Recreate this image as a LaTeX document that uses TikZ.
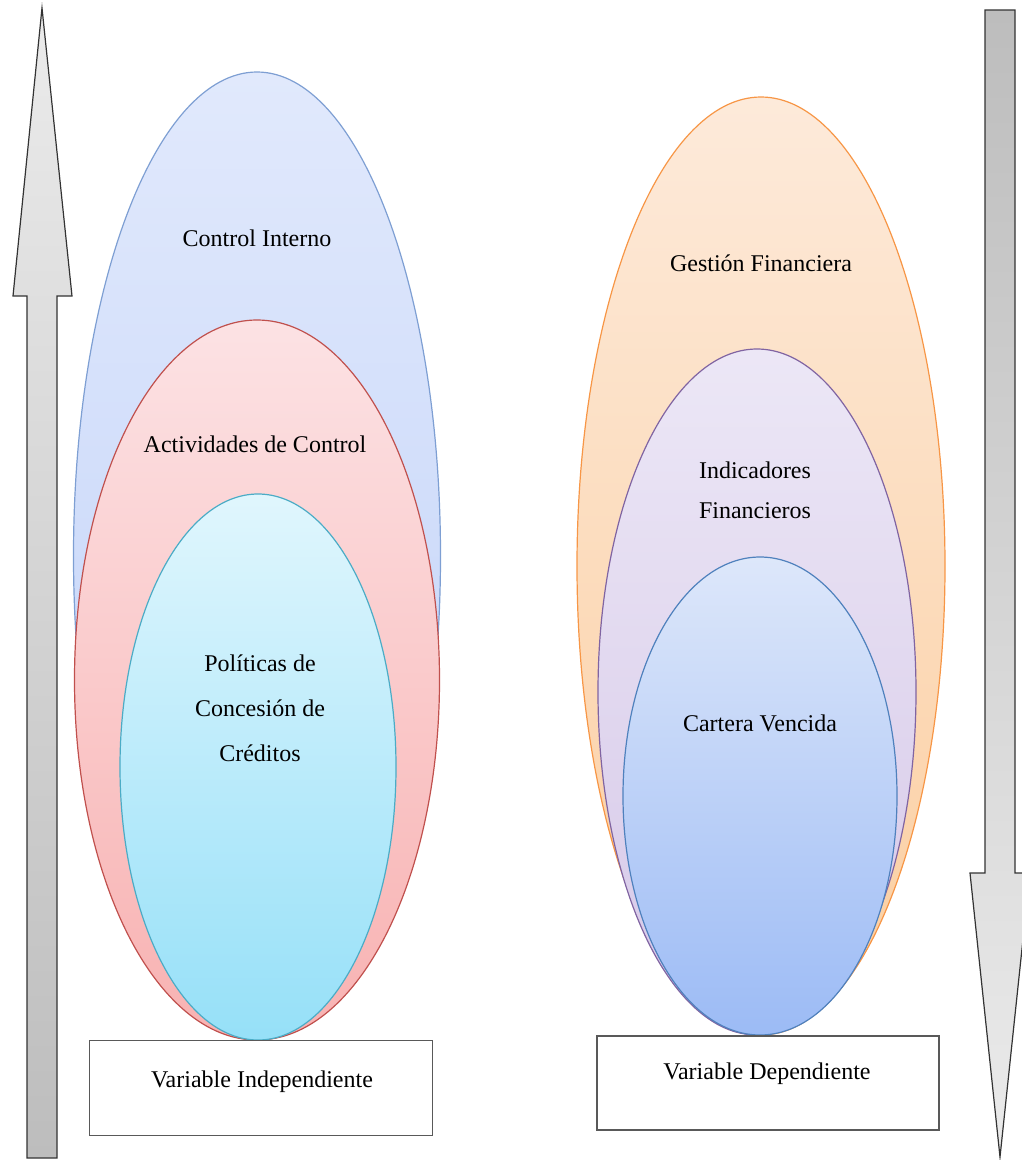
\documentclass[tikz,border=0pt]{standalone}
\usepackage{fontspec}
\setmainfont{Liberation Serif}
\usetikzlibrary{shapes.geometric}

\definecolor{blueEdge}{HTML}{7E9FD3}
\definecolor{blueTop}{HTML}{E1E9FC}
\definecolor{blueBot}{HTML}{BED0F8}
\definecolor{redEdge}{HTML}{C0504D}
\definecolor{redTop}{HTML}{FCE2E4}
\definecolor{redBot}{HTML}{F8B2B2}
\definecolor{cyanEdge}{HTML}{4BACC6}
\definecolor{cyanTop}{HTML}{E0F6FD}
\definecolor{cyanBot}{HTML}{96E0F8}
\definecolor{orangeEdge}{HTML}{F79646}
\definecolor{orangeTop}{HTML}{FDEADA}
\definecolor{orangeBot}{HTML}{FBCEA0}
\definecolor{purpleEdge}{HTML}{8064A2}
\definecolor{purpleTop}{HTML}{ECE7F6}
\definecolor{purpleBot}{HTML}{D6C8E8}
\definecolor{navyEdge}{HTML}{4F81BD}
\definecolor{navyTop}{HTML}{DDE7FA}
\definecolor{navyBot}{HTML}{9CBBF5}
\definecolor{arrowLight}{HTML}{EBEBEB}
\definecolor{arrowDark}{HTML}{BDBDBD}

\tikzset{
  x=1pt, y=-1pt,
  oval/.style={ellipse, inner sep=0pt, line width=1.2pt},
  lbl/.style={font=\fontsize{24}{28}\selectfont, align=center, inner sep=0pt},
  varbox/.style={draw=black!65, line width=1.5pt, fill=white, inner sep=0pt},
  bigarrow/.style={draw=black!80, line width=1.2pt},
}

\begin{document}
\begin{tikzpicture}
\useasboundingbox (0,0) rectangle (1022,1160);

% vertical arrows
\path[bigarrow, top color=arrowLight, bottom color=arrowDark]
  (42,8) -- (72,296) -- (57,296) -- (57,1158) -- (27,1158) -- (27,296) -- (13,296) -- cycle;
\path[bigarrow, top color=arrowDark, bottom color=arrowLight]
  (985,10) -- (1015,10) -- (1015,873) -- (1030,873) -- (1000,1157) -- (970,873) -- (985,873) -- cycle;

% independent variable nest
\node[oval, draw=blueEdge, top color=blueTop, bottom color=blueBot,
      minimum width=367, minimum height=968] (ci) at (257,556) {};
\node[oval, draw=redEdge, top color=redTop, bottom color=redBot,
      minimum width=365, minimum height=720] (ac) at (257,680) {};
\node[oval, draw=cyanEdge, top color=cyanTop, bottom color=cyanBot,
      minimum width=276, minimum height=546] (pc) at (258,767) {};

% dependent variable nest
\node[oval, draw=orangeEdge, top color=orangeTop, bottom color=orangeBot,
      minimum width=368, minimum height=938] (gf) at (761,566) {};
\node[oval, draw=purpleEdge, top color=purpleTop, bottom color=purpleBot,
      minimum width=318, minimum height=686] (if) at (757,692) {};
\node[oval, draw=navyEdge, top color=navyTop, bottom color=navyBot,
      minimum width=274, minimum height=478] (cv) at (760,796) {};

% labels inside the ovals
\node[lbl] (tci) at (257,238) {Control Interno};
\node[lbl] (tac) at (255,444) {Actividades de Control};
\node[lbl] (tpc) at (260,708) {Políticas de\\[17pt]Concesión de\\[17pt]Créditos};
\node[lbl] (tgf) at (761,263) {Gestión Financiera};
\node[lbl] (tif) at (755,490) {Indicadores\\[12pt]Financieros};
\node[lbl] (tcv) at (760,723) {Cartera Vencida};

% variable boxes
\node[varbox, minimum width=343, minimum height=95] (vi) at (261,1088) {};
\node[lbl] (tvi) at (262,1082) {Variable Independiente};
\node[varbox, minimum width=342, minimum height=94] (vd) at (768,1083) {};
\node[lbl] (tvd) at (767,1074) {Variable Dependiente};
\end{tikzpicture}
\end{document}
